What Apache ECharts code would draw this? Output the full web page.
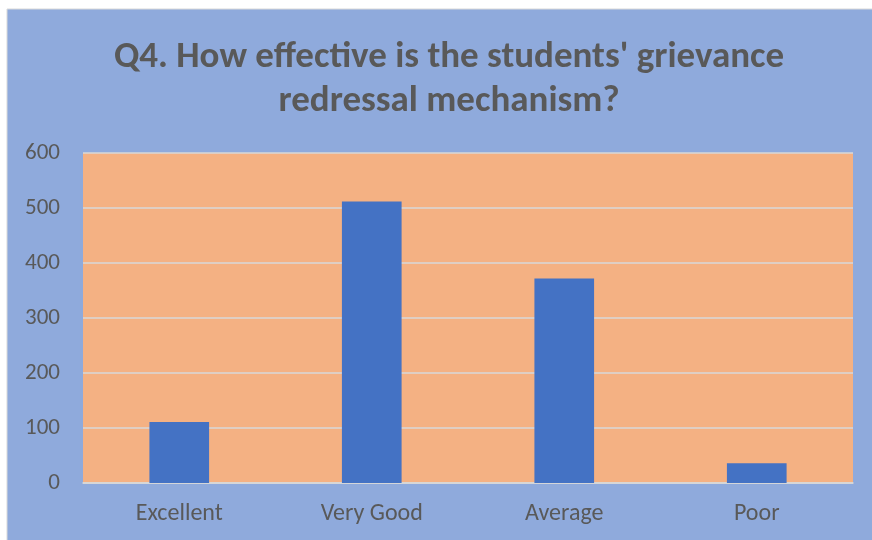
<!DOCTYPE html>
<html>
<head>
<meta charset="utf-8">
<script src="https://cdn.jsdelivr.net/npm/echarts@6/dist/echarts.min.js"></script>
<style>
  html, body { margin: 0; padding: 0; background: #fff; }
  #chart { width: 872px; height: 540px; }
</style>
</head>
<body>
<div id="chart"></div>
<script>
// 数据
const categories = ['Excellent', 'Very Good', 'Average', 'Poor']
const responses = [111, 512, 372, 36]
const yTicks = [0, 100, 200, 300, 400, 500, 600]

const font = 'Carlito, Lato, "Liberation Sans", sans-serif'
const textGray = '#595959'

const chart = echarts.init(document.getElementById('chart'), null, { renderer: 'canvas' })

const option = {
  backgroundColor: '#ffffff',
  animation: false,
  graphic: [{
    type: 'rect',
    z: -10,
    shape: { x: 7, y: 9, width: 872, height: 540 },
    style: { fill: '#8FAADC', stroke: '#D9D9D9', lineWidth: 1 }
  }],
  title: {
    text: "Q4. How effective is the students' grievance\nredressal mechanism?",
    left: 444,
    textAlign: 'center',
    top: 31,
    textStyle: {
      fontFamily: font,
      fontSize: 37,
      fontWeight: 'bold',
      color: textGray,
      lineHeight: 44
    }
  },
  grid: {
    left: 83,
    right: 19,
    top: 153,
    bottom: 57,
    show: true,
    backgroundColor: '#F4B183',
    borderWidth: 0
  },
  xAxis: {
    type: 'category',
    data: categories,
    axisTick: { show: false },
    axisLine: { lineStyle: { color: '#D9D9D9', width: 1.5 } },
    axisLabel: {
      margin: 19,
      fontFamily: font,
      fontSize: 24,
      color: textGray
    }
  },
  yAxis: {
    type: 'value',
    min: yTicks[0],
    max: yTicks[yTicks.length - 1],
    interval: 100,
    axisLine: { show: false },
    axisTick: { show: false },
    splitLine: { lineStyle: { color: '#D9D9D9', width: 1.5 } },
    axisLabel: {
      margin: 23,
      fontFamily: font,
      fontSize: 23,
      color: textGray
    }
  },
  series: [{
    type: 'bar',
    data: responses,
    barWidth: '31%',
    itemStyle: { color: '#4472C4' }
  }]
}

chart.setOption(option)
</script>
</body>
</html>
